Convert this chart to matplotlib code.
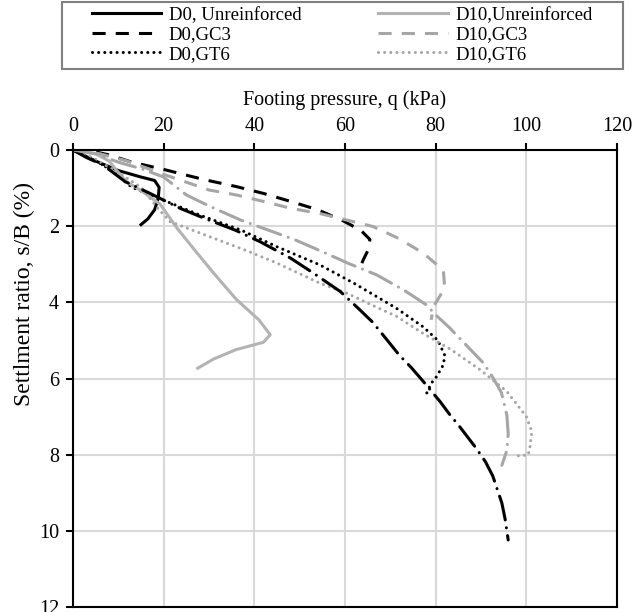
import matplotlib
matplotlib.use('Agg')
import matplotlib.pyplot as plt
from matplotlib.patches import Rectangle

plt.rcParams['font.family'] = 'Liberation Serif'
plt.rcParams['font.size'] = 14

# footing pressure q (kPa) vs settlement ratio s/B (%)
d0_unr_q = [0, 5, 10, 15, 18, 19, 18.8, 18, 16.5, 15]
d0_unr_s = [0, 0.29, 0.54, 0.71, 0.8, 0.98, 1.27, 1.57, 1.81, 1.96]

d10_unr_q = [0, 5, 8, 9.3, 11.8, 14.8, 19.2, 23, 27, 31, 36, 41, 43.5, 42, 36, 31, 27.5]
d10_unr_s = [0, 0.1, 0.29, 0.49, 0.83, 1.05, 1.42, 2.06, 2.65, 3.23, 3.92, 4.46, 4.85, 5.05, 5.24, 5.49, 5.73]

d0_gc3_q = [0, 5, 8, 13, 20, 29, 36, 42, 48, 54, 59.6, 63.5, 65.5, 65, 64, 63.5]
d0_gc3_s = [0, 0.05, 0.13, 0.32, 0.51, 0.78, 0.96, 1.14, 1.35, 1.57, 1.86, 2.11, 2.35, 2.65, 2.89, 3.04]

d10_gc3_q = [0, 6, 12, 20, 30, 36, 42, 48, 54.5, 60.4, 66.2, 71.8, 77.3, 81.7, 82, 81, 79.5, 79]
d10_gc3_s = [0, 0.1, 0.29, 0.64, 1.05, 1.18, 1.35, 1.53, 1.67, 1.84, 2.01, 2.32, 2.71, 3.16, 3.63, 3.82, 4.12, 4.46]

d0_gt6_q = [0, 4, 8.5, 13, 19, 28, 37, 45, 54.5, 62, 71.4, 77.2, 80.5, 82, 81.7, 80.2, 79, 77.7]
d0_gt6_s = [0, 0.2, 0.54, 0.98, 1.27, 1.71, 2.1, 2.54, 3.02, 3.5, 4.16, 4.64, 5.0, 5.39, 5.64, 5.95, 6.13, 6.47]

d10_gt6_q = [0, 5, 10, 15, 19, 21.4, 30, 38, 45, 54.5, 60.4, 65, 71.4, 77, 83.5, 89.8, 95.7, 100, 101.2, 100.8, 100.4, 97]
d10_gt6_s = [0, 0.25, 0.59, 0.98, 1.57, 1.88, 2.27, 2.63, 2.97, 3.5, 3.76, 4.02, 4.37, 4.8, 5.25, 5.77, 6.34, 7.0, 7.39, 7.79, 8.01, 8.04]

# dash-dot series (not in legend)
d0_dd_q = [0, 3, 6.6, 11.5, 17, 23.6, 28.7, 35.7, 41.3, 48, 53, 59, 63.3, 66, 68, 72, 74.6, 77, 81, 83, 85.2, 89, 91, 92.6, 94.6, 95.3, 96]
d0_dd_s = [0, 0.2, 0.39, 0.83, 1.14, 1.53, 1.78, 2.1, 2.41, 2.84, 3.23, 3.72, 4.2, 4.51, 4.8, 5.39, 5.71, 6.04, 6.61, 6.93, 7.25, 7.84, 8.19, 8.56, 9.27, 9.68, 10.24]

d10_dd_q = [0, 5, 10, 15, 20, 25, 30, 37, 43, 49, 55, 61, 67, 73, 78, 80, 83, 90.5, 92.5, 94.5, 95.7, 96, 95.7, 94.6]
d10_dd_s = [0, 0.1, 0.32, 0.49, 0.71, 1.18, 1.47, 1.84, 2.1, 2.36, 2.67, 2.99, 3.28, 3.68, 4.07, 4.33, 4.66, 5.59, 5.95, 6.37, 6.96, 7.45, 7.89, 8.28]

black = 'black'
grey = '#b3b3b3'
grey2 = '#a6a6a6'
lw = 2.2
dashed = (0, (4.3, 3.3))
dotted = (0, (0.01, 2.0))
dashdot = (0, (8, 2.6, 0.01, 2.6))

fig = plt.figure(figsize=(6.43, 6.12), dpi=100)
ax = fig.add_axes([73 / 643, 1 - 607 / 612, 544 / 643, 457 / 612])

ax.plot(d0_unr_q, d0_unr_s, color=black, lw=lw, label='D0, Unreinforced')
ax.plot(d0_gc3_q, d0_gc3_s, color=black, lw=lw, ls=dashed, label='D0,GC3')
ax.plot(d0_gt6_q, d0_gt6_s, color=black, lw=lw, ls=dotted, dash_capstyle='round', label='D0,GT6')
ax.plot(d10_unr_q, d10_unr_s, color=grey, lw=lw, label='D10,Unreinforced')
ax.plot(d10_gc3_q, d10_gc3_s, color=grey2, lw=lw, ls=dashed, label='D10,GC3')
ax.plot(d10_gt6_q, d10_gt6_s, color=grey2, lw=lw, ls=dotted, dash_capstyle='round', label='D10,GT6')
ax.plot(d0_dd_q, d0_dd_s, color=black, lw=lw, ls=dashdot, dash_capstyle='round')
ax.plot(d10_dd_q, d10_dd_s, color=grey2, lw=lw, ls=dashdot, dash_capstyle='round')

ax.set_xlim(0, 120)
ax.set_ylim(12, 0)
ax.set_xticks(range(0, 121, 20))
ax.set_yticks(range(0, 13, 2))
ax.xaxis.tick_top()
ax.xaxis.set_label_position('top')
ax.grid(True, color='#d9d9d9', lw=1.5)
ax.set_axisbelow(True)
for sp in ax.spines.values():
    sp.set_linewidth(1.5)
ax.tick_params(direction='out', length=5, width=1.5, labelsize=14.5, pad=5)
ax.set_xlabel('Footing pressure, q (kPa)', fontsize=14.5, labelpad=9)
ax.set_ylabel('Settlment ratio, s/B (%)', fontsize=17)
ax.yaxis.set_label_coords(-0.07, 0.685)

handles, labels = ax.get_legend_handles_labels()
leg = fig.legend(handles, labels, loc='upper left', bbox_to_anchor=(88 / 643, 1 - 3 / 612),
                 ncol=2, fontsize=13.5, frameon=False,
                 handlelength=3.7, handletextpad=0.4, columnspacing=4.1, labelspacing=0.12,
                 borderpad=0.2, borderaxespad=0)
# legend box is wider than its content in the original
fig.patches.append(Rectangle((62 / 643, 1 - 69 / 612), 561 / 643, 67 / 612,
                             transform=fig.transFigure, fill=False,
                             edgecolor='#808080', lw=1.5))

fig.savefig('out.png', dpi=100)
